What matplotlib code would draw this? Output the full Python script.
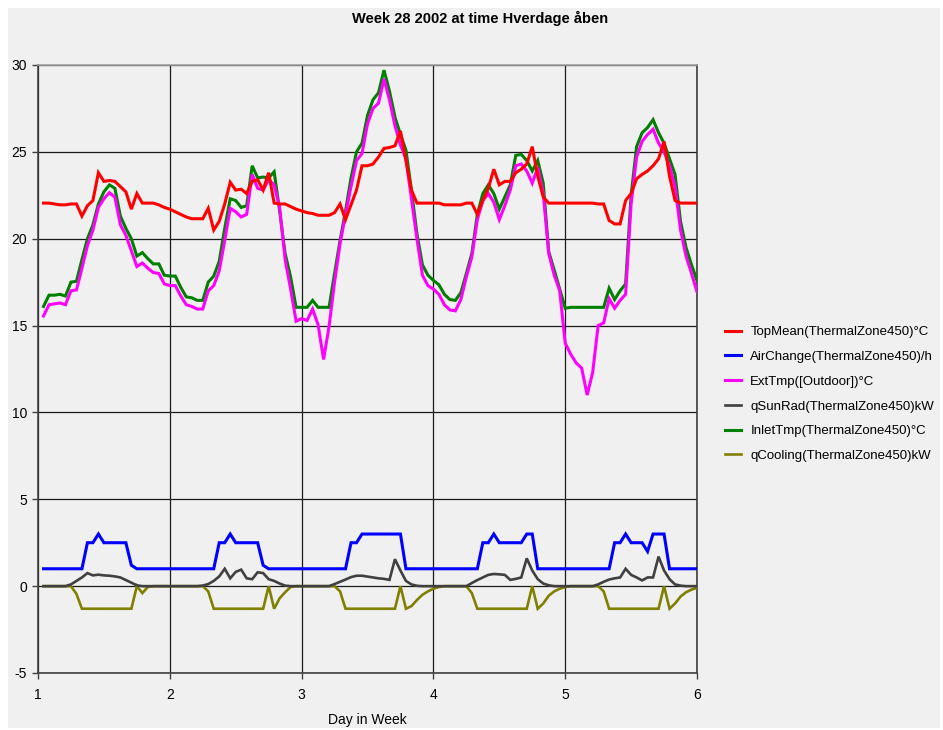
import numpy as np
import matplotlib
matplotlib.use("Agg")
from matplotlib import pyplot as plt
from matplotlib import font_manager
from matplotlib.patches import Rectangle

plt.rcParams["axes.unicode_minus"] = False

# hourly values, hour 1..120 after start of day 1
hours = np.arange(1, 121)
day = 1 + hours / 24

top_mean = [
    22.05, 22.05, 22.0, 21.95, 21.95, 22.0, 22.0, 21.3, 21.9, 22.2, 23.8, 23.3,
    23.35, 23.3, 23.0, 22.7, 21.7, 22.6, 22.05, 22.05, 22.05, 21.95, 21.8, 21.7,
    21.55, 21.4, 21.25, 21.15, 21.15, 21.15, 21.75, 20.5, 21.0, 22.0, 23.25, 22.8,
    22.85, 22.6, 23.3, 23.4, 22.8, 23.8, 22.05, 22.0, 22.0, 21.85, 21.7, 21.6,
    21.5, 21.45, 21.35, 21.35, 21.35, 21.5, 22.0, 21.1, 21.95, 22.8, 24.2, 24.2,
    24.3, 24.7, 25.2, 25.25, 25.35, 26.2, 24.5, 22.8, 22.05, 22.05, 22.05, 22.05,
    22.05, 21.95, 21.95, 21.95, 21.95, 22.05, 22.05, 21.4, 22.2, 22.9, 24.0, 23.1,
    23.3, 23.3, 23.8, 24.0, 24.3, 25.3, 23.6, 22.4, 22.05, 22.05, 22.05, 22.05,
    22.05, 22.05, 22.05, 22.05, 22.05, 22.0, 22.0, 21.05, 20.85, 20.85, 22.2, 22.6,
    23.45, 23.7, 23.9, 24.2, 24.6, 25.6, 23.6, 22.2, 22.05, 22.05, 22.05, 22.05,
]

air_change = [
    1.0, 1.0, 1.0, 1.0, 1.0, 1.0, 1.0, 1.0, 2.5, 2.5, 3.0, 2.5,
    2.5, 2.5, 2.5, 2.5, 1.2, 1.0, 1.0, 1.0, 1.0, 1.0, 1.0, 1.0,
    1.0, 1.0, 1.0, 1.0, 1.0, 1.0, 1.0, 1.0, 2.5, 2.5, 3.0, 2.5,
    2.5, 2.5, 2.5, 2.5, 1.2, 1.0, 1.0, 1.0, 1.0, 1.0, 1.0, 1.0,
    1.0, 1.0, 1.0, 1.0, 1.0, 1.0, 1.0, 1.0, 2.5, 2.5, 3.0, 3.0,
    3.0, 3.0, 3.0, 3.0, 3.0, 3.0, 1.0, 1.0, 1.0, 1.0, 1.0, 1.0,
    1.0, 1.0, 1.0, 1.0, 1.0, 1.0, 1.0, 1.0, 2.5, 2.5, 3.0, 2.5,
    2.5, 2.5, 2.5, 2.5, 3.0, 3.0, 1.0, 1.0, 1.0, 1.0, 1.0, 1.0,
    1.0, 1.0, 1.0, 1.0, 1.0, 1.0, 1.0, 1.0, 2.5, 2.5, 3.0, 2.5,
    2.5, 2.5, 2.0, 3.0, 3.0, 3.0, 1.0, 1.0, 1.0, 1.0, 1.0, 1.0,
]

ext_tmp = [
    15.55, 16.2, 16.25, 16.3, 16.2, 17.0, 17.05, 18.3, 19.6, 20.5, 21.8, 22.3,
    22.65, 22.4, 20.8, 20.2, 19.3, 18.4, 18.6, 18.3, 18.05, 18.0, 17.4, 17.3,
    17.3, 16.7, 16.2, 16.1, 15.95, 15.95, 17.0, 17.3, 18.15, 19.9, 21.75, 21.55,
    21.25, 21.4, 23.7, 22.9, 22.8, 23.4, 23.1, 21.8, 18.8, 17.1, 15.25, 15.4,
    15.3, 15.95, 15.05, 13.05, 14.95, 17.5, 19.7, 21.4, 23.0, 24.5, 24.9, 26.6,
    27.5, 27.8, 29.2, 28.0, 26.5, 25.4, 24.6, 22.3, 20.0, 17.9, 17.3, 17.1,
    16.8, 16.2, 15.9, 15.85, 16.5, 17.8, 18.95, 21.1, 22.2, 22.6, 22.1, 21.1,
    21.9, 22.8, 24.2, 24.3, 23.9, 23.2, 24.1, 22.6, 19.15, 17.9, 17.0, 14.0,
    13.35, 12.85, 12.55, 11.0, 12.3, 15.0, 15.15, 16.55, 16.0, 16.45, 16.8, 22.0,
    24.7, 25.6, 26.0, 26.3, 25.5, 25.0, 24.2, 23.0, 20.5, 19.0, 18.0, 16.95,
]

q_sun_rad = [
    0.0, 0.0, 0.0, 0.0, 0.0, 0.1, 0.3, 0.5, 0.75, 0.62, 0.66, 0.62,
    0.6, 0.56, 0.5, 0.35, 0.2, 0.05, 0.0, 0.0, 0.0, 0.0, 0.0, 0.0,
    0.0, 0.0, 0.0, 0.0, 0.0, 0.03, 0.12, 0.3, 0.56, 1.0, 0.45, 0.82,
    0.95, 0.45, 0.4, 0.8, 0.75, 0.4, 0.3, 0.15, 0.03, 0.0, 0.0, 0.0,
    0.0, 0.0, 0.0, 0.0, 0.0, 0.12, 0.25, 0.38, 0.52, 0.6, 0.6, 0.55,
    0.5, 0.45, 0.42, 0.36, 1.55, 0.9, 0.3, 0.1, 0.02, 0.0, 0.0, 0.0,
    0.0, 0.0, 0.0, 0.0, 0.0, 0.0, 0.18, 0.35, 0.5, 0.65, 0.7, 0.68,
    0.65, 0.36, 0.42, 0.5, 1.6, 0.9, 0.4, 0.15, 0.05, 0.0, 0.0, 0.0,
    0.0, 0.0, 0.0, 0.0, 0.0, 0.1, 0.25, 0.38, 0.45, 0.5, 1.0, 0.65,
    0.5, 0.33, 0.5, 0.5, 1.7, 0.9, 0.4, 0.1, 0.03, 0.0, 0.0, 0.0,
]

inlet_tmp = [
    16.1, 16.75, 16.75, 16.8, 16.7, 17.5, 17.55, 18.8, 20.0, 20.8, 22.0, 22.7,
    23.1, 22.9, 21.3, 20.6, 20.0, 19.0, 19.2, 18.85, 18.55, 18.55, 17.9, 17.85,
    17.85, 17.2, 16.65, 16.6, 16.45, 16.45, 17.5, 17.85, 18.7, 20.6, 22.3, 22.2,
    21.8, 21.9, 24.2, 23.5, 23.55, 23.5, 23.85, 21.6, 19.15, 17.8, 16.05, 16.05,
    16.05, 16.45, 16.05, 16.05, 16.05, 18.0, 19.9, 21.6, 23.5, 25.0, 25.5, 27.1,
    28.0, 28.4, 29.7, 28.5, 27.0, 26.0, 25.1, 22.8, 20.3, 18.5, 17.9, 17.6,
    17.35, 16.8, 16.5, 16.45, 16.9, 18.0, 19.15, 21.4, 22.6, 23.1, 22.6, 21.7,
    22.4, 23.1, 24.8, 24.85, 24.5, 23.9, 24.5, 23.2, 19.25, 18.2, 17.1, 16.0,
    16.05, 16.05, 16.05, 16.05, 16.05, 16.05, 16.05, 17.15, 16.5, 17.0, 17.4, 22.5,
    25.3, 26.1, 26.4, 26.85, 26.1, 25.5, 24.6, 23.7, 21.0, 19.5, 18.5, 17.6,
]

q_cooling = [
    0.0, 0.0, 0.0, 0.0, 0.0, 0.0, -0.45, -1.3, -1.3, -1.3, -1.3, -1.3,
    -1.3, -1.3, -1.3, -1.3, -1.3, 0.0, -0.4, -0.05, 0.0, 0.0, 0.0, 0.0,
    0.0, 0.0, 0.0, 0.0, 0.0, 0.0, -0.3, -1.3, -1.3, -1.3, -1.3, -1.3,
    -1.3, -1.3, -1.3, -1.3, -1.3, 0.0, -1.3, -0.7, -0.35, -0.05, 0.0, 0.0,
    0.0, 0.0, 0.0, 0.0, 0.0, 0.0, -0.3, -1.3, -1.3, -1.3, -1.3, -1.3,
    -1.3, -1.3, -1.3, -1.3, -1.3, 0.0, -1.3, -1.15, -0.8, -0.5, -0.3, -0.15,
    -0.05, 0.0, 0.0, 0.0, 0.0, 0.0, -0.4, -1.3, -1.3, -1.3, -1.3, -1.3,
    -1.3, -1.3, -1.3, -1.3, -1.3, 0.0, -1.3, -1.0, -0.55, -0.3, -0.15, -0.05,
    0.0, 0.0, 0.0, 0.0, 0.0, 0.0, -0.3, -1.3, -1.3, -1.3, -1.3, -1.3,
    -1.3, -1.3, -1.3, -1.3, -1.3, 0.0, -1.3, -1.0, -0.6, -0.35, -0.2, -0.1,
]

labels = ["TopMean(ThermalZone450)°C", "AirChange(ThermalZone450)/h",
          "ExtTmp([Outdoor])°C", "qSunRad(ThermalZone450)kW",
          "InletTmp(ThermalZone450)°C", "qCooling(ThermalZone450)kW"]
colors = ["#ff0000", "#0000ff", "#ff00ff", "#404040", "#008000", "#808000"]
widths = [2.2, 2.2, 2.2, 1.9, 2.2, 1.9]
series = [top_mean, air_change, ext_tmp, q_sun_rad, inlet_tmp, q_cooling]

installed = {f.name for f in font_manager.fontManager.ttflist}
if "Liberation Sans Narrow" in installed:
    narrow = ["Liberation Sans Narrow", "DejaVu Sans"]
    tick_size, title_size = 10.5, 11.5
else:
    narrow = ["Liberation Sans", "DejaVu Sans"]
    tick_size, title_size = 10, 10.5
sans = ["Liberation Sans", "DejaVu Sans"]
bg = "#f0f0f0"

fig = plt.figure(figsize=(9.43, 7.3), dpi=100, facecolor="white")
W, H = 943, 730
fig.patches.append(Rectangle((8 / W, 2 / H), 932 / W, 720 / H, transform=fig.transFigure,
                             facecolor=bg, edgecolor="none", zorder=-10))

ax = fig.add_axes([38 / W, 57 / H, 659 / W, 608 / H])
ax.set_facecolor(bg)

lines = []
for i in range(len(series) - 1, -1, -1):
    ln, = ax.plot(day, series[i], color=colors[i], lw=widths[i], label=labels[i],
                  zorder=10 - i, solid_joinstyle="miter")
    lines.append(ln)
lines = lines[::-1]

ax.set_xlim(1, 6)
ax.set_ylim(-5, 30)
ax.set_xticks(range(1, 7))
ax.set_yticks(range(-5, 31, 5))
ax.grid(True, color="#1a1a1a", lw=0.9)
ax.set_axisbelow(True)
ax.tick_params(direction="out", length=4, width=1, color="#404040", labelsize=tick_size)
ax.tick_params(axis="x", pad=7)
ax.tick_params(axis="y", pad=4)
for t in ax.get_xticklabels() + ax.get_yticklabels():
    t.set_family(narrow)
for s in ax.spines.values():
    s.set_color("#404040")
    s.set_linewidth(1.2)
ax.spines["top"].set_color("#a0a0a0")

ax.set_xlabel("Day in Week", family=narrow, fontsize=tick_size, labelpad=8)
fig.text(480 / W, 1 - 18 / H, "Week 28 2002 at time Hverdage åben", ha="center", va="center",
         family=narrow, fontsize=title_size, fontweight="bold")

ax.legend(lines, labels, loc="center left", bbox_to_anchor=(718 / W, 1 - 394 / H),
          bbox_transform=fig.transFigure, frameon=False,
          handlelength=1.25, handletextpad=0.7, labelspacing=0.95, borderpad=0,
          prop={"family": sans, "size": 9.5})

fig.savefig("out.png", dpi=100, facecolor="white")
